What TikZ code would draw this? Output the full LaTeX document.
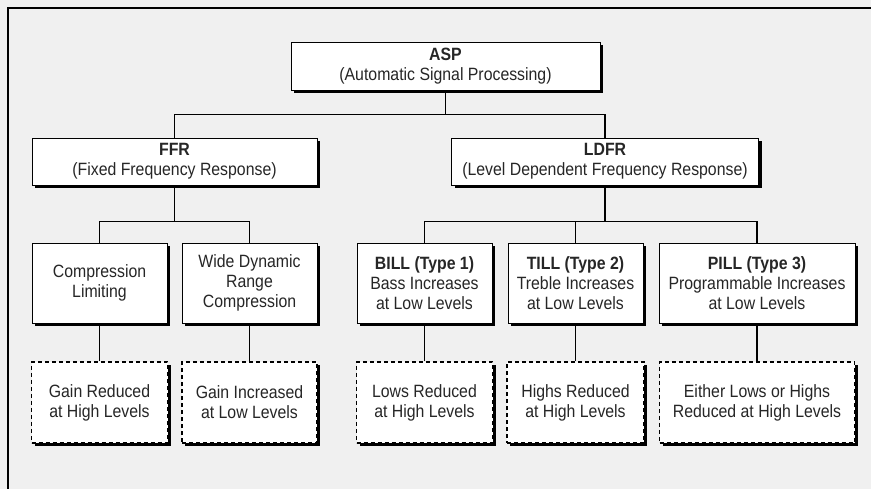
\documentclass[tikz,border=0pt]{standalone}
\usepackage{fontspec}
\setmainfont{Liberation Sans}[FakeStretch=0.89]
\usetikzlibrary{shadows}

\begin{document}
\begin{tikzpicture}[x=1pt, y=-1pt,
    box/.style={draw=black, line width=0.9pt, fill=white, text=black!85,
        align=center, inner sep=0pt, font=\fontsize{17.8}{20}\selectfont,
        drop shadow={shadow xshift=3pt, shadow yshift=-3pt, fill=black, opacity=1}},
    dbox/.style={box, line width=1.1pt, dash pattern=on 4pt off 3pt},
    link/.style={line width=1.3pt}]
        \fill[black!6] (0,0) rectangle (871,489);
        \useasboundingbox (0,0) rectangle (871,489);

        \coordinate (BL) at (8,489);
        \coordinate (TL) at (8,8);
        \coordinate (TR) at (871,8);
        \draw[line width=1.8pt] (BL) -- (TL) -- (TR);

        \node[box, minimum width=309pt, minimum height=48pt] (asp) at (445.5,66)
            {\textbf{ASP}\\(Automatic Signal Processing)};
        \node[box, minimum width=285pt, minimum height=47pt] (ffr) at (174.5,161.5)
            {\textbf{FFR}\\(Fixed Frequency Response)};
        \node[box, minimum width=307pt, minimum height=47pt] (ldfr) at (605,161.5)
            {\textbf{LDFR}\\(Level Dependent Frequency Response)};

        \node[box, minimum width=135pt, minimum height=80pt] (comp) at (99.5,283)
            {Compression\\Limiting};
        \node[box, minimum width=135pt, minimum height=80pt] (wdrc) at (249.5,283)
            {Wide Dynamic\\Range\\Compression};
        \node[box, minimum width=135pt, minimum height=80pt] (bill) at (424.5,283)
            {\textbf{BILL (Type 1)}\\Bass Increases\\at Low Levels};
        \node[box, minimum width=135pt, minimum height=80pt] (till) at (575.5,283)
            {\textbf{TILL (Type 2)}\\Treble Increases\\at Low Levels};
        \node[box, minimum width=196pt, minimum height=80pt] (pill) at (757,283)
            {\textbf{PILL (Type 3)}\\Programmable Increases\\at Low Levels};

        \node[dbox, minimum width=136pt, minimum height=81pt] (gred) at (99.5,402.5)
            {Gain Reduced\\at High Levels};
        \node[dbox, minimum width=135pt, minimum height=81pt] (ginc) at (249.5,402.5)
            {Gain Increased\\at Low Levels};
        \node[dbox, minimum width=136pt, minimum height=81pt] (lows) at (424.5,402.5)
            {Lows Reduced\\at High Levels};
        \node[dbox, minimum width=137pt, minimum height=81pt] (highs) at (575.5,402.5)
            {Highs Reduced\\at High Levels};
        \node[dbox, minimum width=195pt, minimum height=81pt] (either) at (757,402.5)
            {Either Lows or Highs\\Reduced at High Levels};

        \draw[link] (asp.south) -- ++(0,24) coordinate (aspj);
        \draw[link] (ffr.north) |- (aspj) -| (ldfr.north);

        \draw[link] (ffr.south) -- ++(0,36) coordinate (ffrj);
        \draw[link] (comp.north) |- (ffrj) -| (wdrc.north);

        \draw[link] (ldfr.south) -- ++(0,36) coordinate (ldfrj);
        \draw[link] (bill.north) |- (ldfrj) -| (pill.north);
        \draw[link] (till.north) -- (till.north |- ldfrj);

        \draw[link] (comp.south) -- (gred.north);
        \draw[link] (wdrc.south) -- (ginc.north);
        \draw[link] (bill.south) -- (lows.north);
        \draw[link] (till.south) -- (highs.north);
        \draw[link] (pill.south) -- (either.north);
    \end{tikzpicture}
\end{document}
